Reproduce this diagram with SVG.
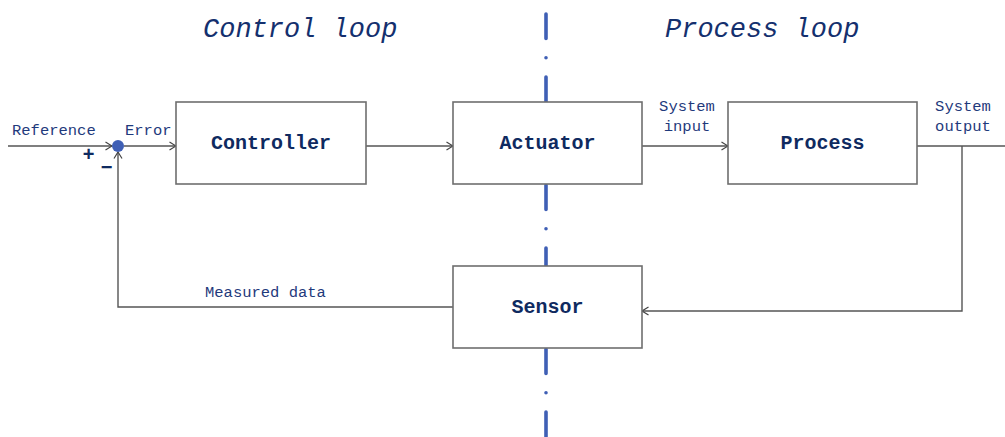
<svg xmlns="http://www.w3.org/2000/svg" width="1005" height="437" viewBox="0 0 1005 437">
  <defs>
    <marker id="arrow" viewBox="0 0 8 10" refX="7.5" refY="5" markerWidth="8" markerHeight="10" markerUnits="userSpaceOnUse" orient="auto">
      <path d="M1,1 L7.5,5 L1,9" fill="none" stroke="#444" stroke-width="1.2"/>
    </marker>
    <style>
      .wire { fill: none; stroke: #555; stroke-width: 1.4; }
      .arr { marker-end: url(#arrow); }
      .box { fill: #fff; stroke: #6e6e6e; stroke-width: 1.6; }
      .divider { stroke: #3f5fb5; stroke-width: 3.6; stroke-linecap: round; stroke-dasharray: 24.4 19.3 0.01 19.3; fill: none; }
      .title { font-family: "Liberation Mono", "DejaVu Sans Mono", monospace; font-style: italic; font-size: 27px; fill: #14306e; }
      .label { font-family: "Liberation Mono", "DejaVu Sans Mono", monospace; font-size: 15.5px; fill: #1f3a7c; }
      .name { font-family: "Liberation Mono", "DejaVu Sans Mono", monospace; font-weight: bold; font-size: 20px; fill: #0f2a60; text-anchor: middle; }
      .sign { font-family: "Liberation Sans", "DejaVu Sans", sans-serif; font-weight: bold; font-size: 20px; fill: #0f2a60; text-anchor: middle; }
    </style>
  </defs>

  <!-- divider between the control side and the process side -->
  <g id="divider">
    <line class="divider" x1="546" y1="14" x2="546" y2="102"/>
    <line class="divider" x1="546" y1="185" x2="546" y2="266"/>
    <line class="divider" x1="546" y1="349" x2="546" y2="440"/>
  </g>

  <text class="title" x="203" y="37">Control loop</text>
  <text class="title" x="665" y="37">Process loop</text>

  <g id="connectors">
    <line class="wire arr" x1="8" y1="146" x2="112" y2="146"/>
    <line class="wire arr" x1="124" y1="146" x2="176" y2="146"/>
    <line class="wire arr" x1="366" y1="146" x2="453" y2="146"/>
    <line class="wire arr" x1="642" y1="146" x2="728" y2="146"/>
    <line class="wire" x1="917" y1="146" x2="1005" y2="146"/>
    <polyline class="wire arr" points="962,146 962,311 642,311"/>
    <polyline class="wire arr" points="453,307 118,307 118,152"/>
  </g>

  <g id="summing-junction">
    <circle cx="118" cy="146" r="6" fill="#3f5fb5"/>
    <text class="sign" x="88.5" y="161">+</text>
    <text class="sign" x="106.5" y="174">−</text>
  </g>

  <g id="controller">
    <rect class="box" x="176" y="102" width="190" height="82"/>
    <text class="name" x="271" y="149">Controller</text>
  </g>
  <g id="actuator">
    <rect class="box" x="453" y="102" width="189" height="82"/>
    <text class="name" x="547.5" y="149">Actuator</text>
  </g>
  <g id="process">
    <rect class="box" x="728" y="102" width="189" height="82"/>
    <text class="name" x="822.5" y="149">Process</text>
  </g>
  <g id="sensor">
    <rect class="box" x="453" y="266" width="189" height="82"/>
    <text class="name" x="547.5" y="313">Sensor</text>
  </g>

  <g id="labels">
    <text class="label" x="12" y="135">Reference</text>
    <text class="label" x="125" y="135">Error</text>
    <text class="label" x="687" y="111" text-anchor="middle">System</text>
    <text class="label" x="687" y="131" text-anchor="middle">input</text>
    <text class="label" x="963" y="111" text-anchor="middle">System</text>
    <text class="label" x="963" y="131" text-anchor="middle">output</text>
    <text class="label" x="205" y="297">Measured data</text>
  </g>
</svg>
